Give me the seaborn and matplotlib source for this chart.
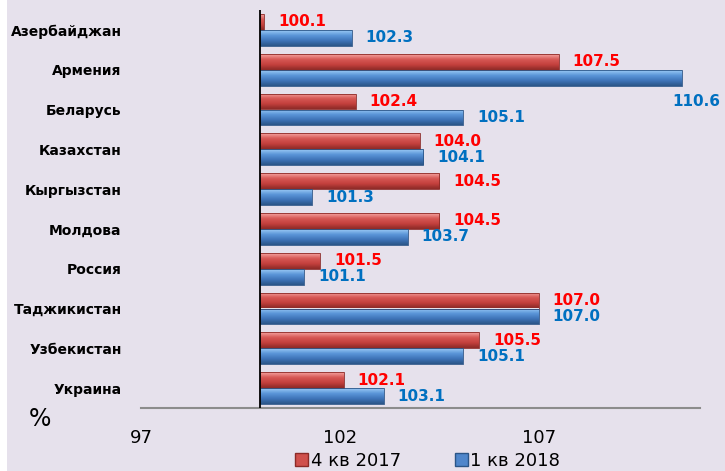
import numpy as np
import pandas as pd
import seaborn as sns
import matplotlib.pyplot as plt
from matplotlib.colors import LinearSegmentedColormap
from matplotlib.patches import Patch, Rectangle

# data
countries = ['Азербайджан', 'Армения', 'Беларусь', 'Казахстан', 'Кыргызстан',
             'Молдова', 'Россия', 'Таджикистан', 'Узбекистан', 'Украина']
q4_2017 = [100.1, 107.5, 102.4, 104.0, 104.5, 104.5, 101.5, 107.0, 105.5, 102.1]
q1_2018 = [102.3, 110.6, 105.1, 104.1, 101.3, 103.7, 101.1, 107.0, 105.1, 103.1]
series = ['4 кв 2017', '1 кв 2018']
base = 100
xticks = [97, 102, 107]

bg = '#E6E1EC'
bar_cols = ['#D0504C', '#4F86CB']
lab_cols = ['#FF0000', '#0070C0']
grads = [['#F6A3A0', '#D65855', '#C4403D', '#8C2A27'],
         ['#9CCBF5', '#5A95D8', '#3F74B8', '#2B5587']]

# long format, bars measured from the 100 baseline
df = pd.DataFrame({
    'country': countries * 2,
    'period': [series[0]] * len(countries) + [series[1]] * len(countries),
    'value': q4_2017 + q1_2018,
})
df['delta'] = df['value'] - base

sns.set_style('white')
plt.rcParams['font.family'] = ['DejaVu Sans']
plt.rcParams['text.color'] = 'black'
plt.rcParams['xtick.color'] = 'black'
plt.rcParams['ytick.color'] = 'black'

fig = plt.figure(figsize=(7.25, 4.71), dpi=100, facecolor=bg)
fig.patches.append(Rectangle((0, 0), 7 / 725, 1, transform=fig.transFigure,
                             facecolor='white', edgecolor='none'))
ax = fig.add_axes([141 / 725, 63 / 471, 559 / 725, 398 / 471])
ax.set_facecolor(bg)

sns.barplot(data=df, y='country', x='delta', hue='period', orient='h',
            palette=bar_cols, width=0.8, legend=False, ax=ax, errorbar=None)

# fake the bevel look: vertical gradient clipped to each bar
for i, cont in enumerate(ax.containers):
    cmap = LinearSegmentedColormap.from_list('g%d' % i, grads[i])
    grad = np.linspace(0, 1, 64).reshape(-1, 1)
    for p in cont.patches:
        x0, y0, w, h = p.get_x(), p.get_y(), p.get_width(), p.get_height()
        im = ax.imshow(grad, cmap=cmap, aspect='auto', origin='upper',
                       extent=(x0, x0 + w, y0 + h, y0), zorder=2,
                       interpolation='bicubic')
        im.set_clip_path(p)
        p.set_edgecolor(grads[i][3])
        p.set_linewidth(0.6)
        p.set_zorder(3)
        p.set_facecolor('none')

ax.set_xlim(-3, 11.05)
ax.set_ylim(len(countries) - 0.5, -0.5)

# value labels
for i, cont in enumerate(ax.containers):
    vals = q4_2017 if i == 0 else q1_2018
    for p, v in zip(cont.patches, vals):
        yc = p.get_y() + p.get_height() / 2
        if v > 110:
            ax.annotate('%.1f' % v, (p.get_width(), yc), xytext=(-7, -17),
                        textcoords='offset points', ha='left', va='center',
                        color=lab_cols[i], fontsize=11, fontweight='bold',
                        annotation_clip=False)
        else:
            ax.annotate('%.1f' % v, (p.get_width(), yc), xytext=(10, 0),
                        textcoords='offset points', ha='left', va='center',
                        color=lab_cols[i], fontsize=11, fontweight='bold')

ax.axvline(0, color='black', lw=1.3, zorder=5)

ax.set_xticks([t - base for t in xticks])
ax.set_xticklabels([str(t) for t in xticks], fontsize=13, color='black')
ax.tick_params(axis='x', direction='out', length=4, width=1.5, color='#8C8C8C',
               labelcolor='black', pad=11)
ax.tick_params(axis='y', length=0, pad=14, labelsize=10, labelcolor='black')
for t in ax.get_yticklabels():
    t.set_fontweight('bold')
ax.set_xlabel('')
ax.set_ylabel('')
for s in ['top', 'right', 'left']:
    ax.spines[s].set_visible(False)
ax.spines['bottom'].set_color('#8C8C8C')
ax.spines['bottom'].set_linewidth(1.5)

fig.text(40 / 725, 1 - 419 / 471, '%', fontsize=17, ha='center', va='center', color='black')

handles = [Patch(facecolor=bar_cols[k], edgecolor=grads[k][3], label=series[k]) for k in range(2)]
fig.legend(handles=handles, loc='center', bbox_to_anchor=(0.59, 1 - 461 / 471), ncol=2,
           frameon=False, fontsize=13, handlelength=0.7, handleheight=0.7,
           handletextpad=0.15, columnspacing=3.0, borderpad=0, labelcolor='black')

fig.savefig('out.png', dpi=100, facecolor=fig.get_facecolor())
